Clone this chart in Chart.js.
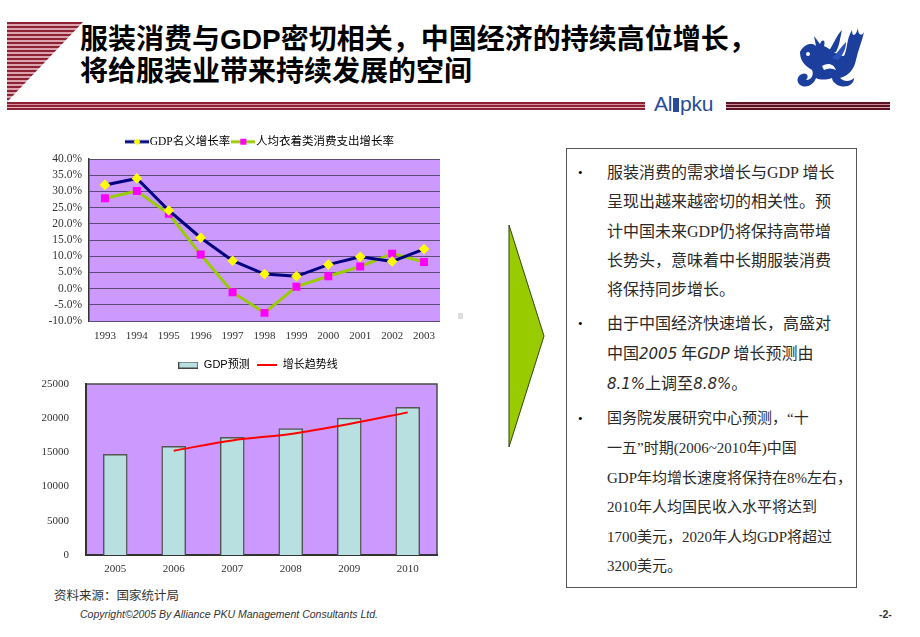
<!DOCTYPE html>
<html lang="zh">
<head>
<meta charset="UTF-8">
<title>服装消费与GDP</title>
<script src="https://cdn.jsdelivr.net/npm/chart.js"></script>
<style>
  body { margin: 0; width: 920px; height: 637px; position: relative; overflow: hidden; background: #fff;
         font-family: "Liberation Serif", "Noto Sans CJK SC", serif; }
  .abs { position: absolute; }
  .tri { left: 7px; top: 22px; width: 76px; height: 80px;
         background: repeating-linear-gradient(to bottom, #8e2235 0 2px, #dca4ae 2px 4px);
         clip-path: polygon(0 0, 100% 0, 0 100%); }
  .band { height: 8px;
          background: linear-gradient(to bottom, #8e2235 0 2px, #d58f9c 2px 3px, #8e2235 3px 5px, #e4b4bc 5px 6px, #8e2235 6px 8px); }
  .band.dark { background: linear-gradient(to bottom, #5a1424 0 2px, #c98a95 2px 3px, #5a1424 3px 5px, #d9aab2 5px 6px, #5a1424 6px 8px); }
  .title { left: 80px; top: 24px; font: bold 28px/32px "Liberation Sans", "Noto Sans CJK SC", sans-serif; color: #000; white-space: nowrap; }
  .brand { left: 654px; top: 92px; font: 21px "Liberation Sans", sans-serif; color: #2a4a9a; letter-spacing: -0.3px; }
  .box { left: 566px; top: 148px; width: 289px; height: 438px; border: 1px solid #555; }
  .box ul { margin: 0; padding: 9px 0 0 0; list-style: none; }
  .box li { position: relative; padding-left: 40px; font-size: 16px; line-height: 29.3px; color: #2a2a2a; white-space: nowrap; margin-bottom: 5px; }
  .box li::before { content: "•"; position: absolute; left: 11px; top: 0; font-size: 13px; color: #000; }
  .box li.narrow { font-size: 15px; line-height: 29.6px; }
  .box i { font-family: "DejaVu Sans", sans-serif; font-size: 15px; }
  .src { left: 54px; top: 585px; font: 12.5px "Noto Sans CJK SC", sans-serif; color: #333; }
  .copy { left: 80px; top: 608px; font: italic 10.5px "Liberation Sans Narrow", "Liberation Sans", sans-serif; color: #333; }
  .page { left: 879px; top: 608px; font: bold 10.5px "Liberation Sans", sans-serif; color: #333; }
  canvas { position: absolute; }
</style>
</head>
<body>
  <div class="abs tri"></div>
  <div class="abs band" style="left:7px; top:102px; width:638px;"></div>
  <div class="abs band dark" style="left:726px; top:102px; width:164px;"></div>
  <div class="abs title">服装消费与GDP密切相关，中国经济的持续高位增长，<br>将给服装业带来持续发展的空间</div>
  <div class="abs brand">Al<span style="display:inline-block;width:6px;height:14px;background:#2a4a9a;margin:0 1px;vertical-align:-1px"></span>pku</div>

  <!-- logo, rough dragon -->
  <svg class="abs" style="left:792px; top:22px" width="80" height="68" viewBox="0 0 80 68">
    <g fill="#1c3f9e">
      <path d="M8 30 C12 22 20 20 24 24 L22 14 L28 22 C30 16 34 18 32 24 C40 28 46 34 52 34 C56 26 54 18 60 8 C60 16 64 14 66 6 C66 14 70 14 72 10 C70 20 66 28 64 38 C62 48 56 54 48 56 C52 60 58 60 62 56 C62 62 56 66 48 64 C42 62 40 58 40 56 C34 58 28 58 24 56 C22 62 16 66 10 64 C4 62 4 54 10 52 C14 50 18 54 14 58 C20 58 22 52 20 48 C14 44 8 40 8 30 Z"/>
      <path d="M36 30 C42 22 44 14 50 8 C48 16 48 22 44 30 Z" />
      <path d="M40 36 C46 30 50 24 54 20 C54 28 50 34 46 38 Z" fill="#2a52b8"/>
    </g>
    <g fill="#fff">
      <circle cx="16" cy="32" r="2"/>
      <path d="M30 44 C36 40 42 42 44 48 C40 46 36 46 32 48 Z"/>
    </g>
  </svg>

  <canvas id="chartGrowth" width="420" height="215" style="left:40px; top:130px"></canvas>
  <div class="abs" style="left:458px; top:313px; width:5px; height:6px; background:#ddd"></div>
  <canvas id="chartForecast" width="420" height="228" style="left:40px; top:352px"></canvas>

  <svg class="abs" style="left:505px; top:222px" width="45" height="230">
    <polygon points="4,3 39,114 4,225" fill="#99cc00" stroke="#334400" stroke-width="1"/>
  </svg>

  <div class="abs box">
    <ul>
      <li>服装消费的需求增长与GDP 增长<br>呈现出越来越密切的相关性。预<br>计中国未来GDP仍将保持高带增<br>长势头，意味着中长期服装消费<br>将保持同步增长。</li>
      <li>由于中国经济快速增长，高盛对<br>中国<i>2005</i> 年<i>GDP</i> 增长预测由<br><i>8.1%</i>上调至<i>8.8%</i>。</li>
      <li class="narrow">国务院发展研究中心预测，“十<br>一五”时期(2006~2010年)中国<br>GDP年均增长速度将保持在8%左右，<br>2010年人均国民收入水平将达到<br>1700美元，2020年人均GDP将超过<br>3200美元。</li>
    </ul>
  </div>

  <div class="abs src">资料来源：国家统计局</div>
  <div class="abs copy">Copyright©2005 By Alliance PKU Management Consultants Ltd.</div>
  <div class="abs page">-2-</div>

<script>
  // 上图：增长率
  const years = ['1993', '1994', '1995', '1996', '1997', '1998', '1999', '2000', '2001', '2002', '2003'];
  const gdpGrowth = [32.0, 34.0, 24.1, 15.7, 8.6, 4.5, 3.8, 7.4, 9.8, 8.4, 12.2];
  const clothingGrowth = [27.9, 30.1, 23.1, 10.5, -1.1, -7.5, 0.6, 3.8, 6.8, 10.8, 8.2];
  const growthNames = ['GDP名义增长率', '人均衣着类消费支出增长率'];

  // 下图：GDP预测
  const forecastYears = ['2005', '2006', '2007', '2008', '2009', '2010'];
  const gdpForecast = [14700, 15900, 17200, 18500, 20000, 21600];
  const trendLine = [null, 15250, 16750, 17700, 19150, 20850];
  const forecastNames = ['GDP预测', '增长趋势线'];

  const tickFont = { family: '"Liberation Serif", "Noto Sans CJK SC", serif', size: 11 };

  // 绘图区背景和边框
  const plotBg = {
    id: 'plotBg',
    beforeDraw(chart, args, opts) {
      const { ctx, chartArea: a } = chart;
      ctx.save();
      ctx.fillStyle = opts.color;
      ctx.fillRect(a.left, a.top, a.width, a.height);
      if (opts.border) {
        ctx.strokeStyle = opts.border;
        ctx.lineWidth = opts.borderWidth || 1;
        ctx.strokeRect(a.left, a.top, a.width, a.height);
      }
      ctx.restore();
    }
  };

  // 固定图例高度并横向挪一下，这样绘图区位置可控
  const legendBox = {
    id: 'legendBox',
    beforeLayout(chart, args, opts) {
      const lg = chart.legend;
      if (lg && !lg._fixed) {
        const fit = lg.fit;
        lg.fit = function () { fit.call(this); this.height = opts.h; };
        lg._fixed = true;
      }
    },
    afterLayout(chart, args, opts) {
      const lg = chart.legend;
      if (lg) { lg.left += opts.dx; lg.right += opts.dx; }
    }
  };

  function legendImg(w, h, draw) {
    const c = document.createElement('canvas');
    c.width = w; c.height = h;
    draw(c.getContext('2d'));
    return c;
  }

  const gdpMark = legendImg(24, 10, function (g) {
    g.strokeStyle = '#000080'; g.lineWidth = 3;
    g.beginPath(); g.moveTo(0, 5); g.lineTo(24, 5); g.stroke();
    g.fillStyle = '#ffff00';
    g.beginPath(); g.moveTo(12, 1.5); g.lineTo(15.5, 5); g.lineTo(12, 8.5); g.lineTo(8.5, 5); g.closePath(); g.fill();
  });
  const clothMark = legendImg(24, 10, function (g) {
    g.strokeStyle = '#99cc00'; g.lineWidth = 3;
    g.beginPath(); g.moveTo(0, 5); g.lineTo(24, 5); g.stroke();
    g.fillStyle = '#ff00ff';
    g.fillRect(9, 2, 6, 6);
  });
  const barMark = legendImg(20, 7, function (g) {
    g.fillStyle = '#b8e0e0'; g.fillRect(0.5, 0.5, 19, 6);
    g.strokeStyle = '#444'; g.lineWidth = 1; g.strokeRect(0.5, 0.5, 19, 6);
  });
  const trendMark = legendImg(20, 4, function (g) {
    g.fillStyle = '#ff0000'; g.fillRect(0, 1, 20, 2);
  });

  new Chart(document.getElementById('chartGrowth'), {
    type: 'line',
    data: {
      labels: years,
      datasets: [{
        label: growthNames[0],
        data: gdpGrowth,
        borderColor: '#000080',
        borderWidth: 3,
        pointStyle: 'rectRot',
        pointRadius: 3.2,
        pointBackgroundColor: '#ffff00',
        pointBorderColor: '#ffff00',
        tension: 0
      }, {
        label: growthNames[1],
        data: clothingGrowth,
        borderColor: '#99cc00',
        borderWidth: 3,
        pointStyle: 'rect',
        pointRadius: 3.5,
        pointBackgroundColor: '#ff00ff',
        pointBorderColor: '#ff00ff',
        tension: 0
      }]
    },
    options: {
      responsive: false,
      animation: false,
      layout: { padding: { left: 0, right: 20, top: 0, bottom: 0 } },
      plugins: {
        plotBg: { color: '#cc99ff' },
        legendBox: { h: 29, dx: 22 },
        tooltip: { enabled: false },
        legend: {
          labels: {
            usePointStyle: true,
            pointStyleWidth: 14,
            padding: 6,
            color: '#333',
            font: { family: tickFont.family, size: 11.5 },
            generateLabels: function () {
              return [
                { text: growthNames[0], pointStyle: gdpMark, fillStyle: '#000080', strokeStyle: '#000080', lineWidth: 0, datasetIndex: 0 },
                { text: growthNames[1], pointStyle: clothMark, fillStyle: '#99cc00', strokeStyle: '#99cc00', lineWidth: 0, datasetIndex: 1 }
              ];
            }
          }
        }
      },
      scales: {
        x: {
          offset: true,
          grid: { display: false },
          border: { display: false },
          ticks: { color: '#333', font: tickFont, padding: 1, maxRotation: 0 },
          afterFit(s) { s.height = 24; }
        },
        y: {
          min: -10,
          max: 40,
          grid: { color: '#5e4a78', lineWidth: 1, drawTicks: false },
          border: { color: '#333', width: 1.5 },
          ticks: {
            stepSize: 5,
            autoSkip: false,
            color: '#333',
            font: { family: tickFont.family, size: 11.5 },
            padding: 7,
            callback: v => v.toFixed(1) + '%'
          },
          afterFit(s) { s.width = 49; }
        }
      }
    },
    plugins: [plotBg, legendBox]
  });

  new Chart(document.getElementById('chartForecast'), {
    type: 'bar',
    data: {
      labels: forecastYears,
      datasets: [{
        label: forecastNames[1],
        type: 'line',
        data: trendLine,
        borderColor: '#ff0000',
        borderWidth: 2,
        pointRadius: 0,
        cubicInterpolationMode: 'monotone',
        order: 0
      }, {
        label: forecastNames[0],
        data: gdpForecast,
        backgroundColor: '#b8e0e0',
        borderColor: '#555',
        borderWidth: 1.5,
        barThickness: 24,
        order: 1
      }]
    },
    options: {
      responsive: false,
      animation: false,
      layout: { padding: { left: 0, right: 23, top: 0, bottom: 0 } },
      plugins: {
        plotBg: { color: '#cc99ff', border: '#4a4a4a', borderWidth: 1.5 },
        legendBox: { h: 32, dx: 19.5 },
        tooltip: { enabled: false },
        legend: {
          labels: {
            usePointStyle: true,
            pointStyleWidth: 20,
            padding: 7.5,
            color: '#333',
            font: { family: '"Liberation Sans", "Noto Sans CJK SC", sans-serif', size: 11 },
            generateLabels: function () {
              return [
                { text: forecastNames[0], pointStyle: barMark, fillStyle: '#b8e0e0', strokeStyle: '#444', lineWidth: 0, datasetIndex: 1 },
                { text: forecastNames[1], pointStyle: trendMark, fillStyle: '#ff0000', strokeStyle: '#ff0000', lineWidth: 0, datasetIndex: 0 }
              ];
            }
          }
        }
      },
      scales: {
        x: {
          grid: { display: false },
          border: { color: '#333', width: 2 },
          ticks: { color: '#333', font: tickFont, padding: 0, maxRotation: 0 },
          afterFit(s) { s.height = 25; }
        },
        y: {
          min: 0,
          max: 25000,
          grid: { display: false },
          border: { color: '#333', width: 2 },
          ticks: { stepSize: 5000, color: '#333', font: tickFont, padding: 9, callback: v => String(v) },
          afterFit(s) { s.width = 46; }
        }
      }
    },
    plugins: [plotBg, legendBox]
  });
</script>
</body>
</html>
